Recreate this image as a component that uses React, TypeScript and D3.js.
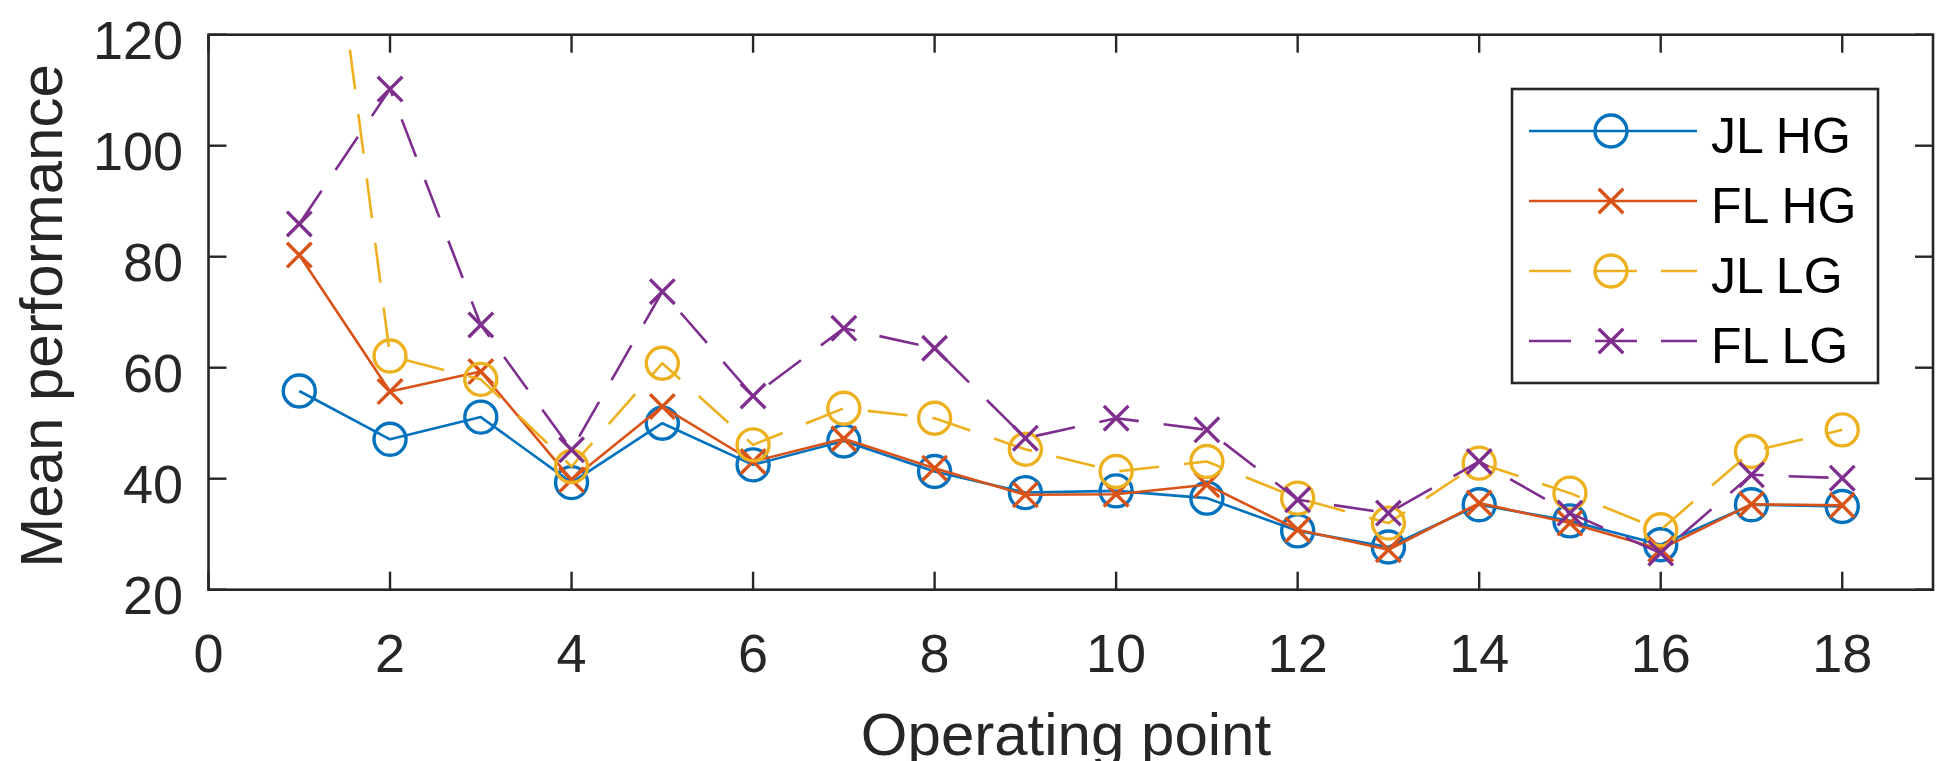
import * as d3 from "d3"

const W = 1941
const H = 761

// operating points 1..18
const opPoints = d3.range(1, 19)

const jlHG = [55.8, 47.1, 51.1, 39.3, 50.0, 42.5, 46.8, 41.3, 37.5, 37.8, 36.5, 30.6, 27.7, 35.3, 32.4, 28.1, 35.3, 35.0]
const flHG = [80.3, 55.7, 59.3, 39.8, 53.0, 43.1, 47.2, 41.9, 37.1, 37.2, 38.9, 30.8, 27.2, 35.6, 32.0, 27.3, 35.4, 35.2]
const jlLG = [187, 62.1, 57.9, 42.2, 60.8, 46.1, 52.7, 50.9, 45.3, 41.3, 43.1, 36.5, 32.0, 42.8, 37.4, 30.8, 44.9, 48.8]
const flLG = [85.9, 110.2, 67.7, 45.2, 73.7, 54.9, 67.1, 63.5, 47.3, 50.9, 48.8, 36.2, 33.8, 43.1, 33.8, 26.6, 40.7, 40.1]

const xTicks = [0, 2, 4, 6, 8, 10, 12, 14, 16, 18]
const yTicks = [20, 40, 60, 80, 100, 120]

const seriesNames = ["JL HG", "FL HG", "JL LG", "FL LG"]
const seriesColors = ["#0072BD", "#D95319", "#EDB120", "#7E2F8E"]
const seriesMarkers = ["circle", "cross", "circle", "cross"]
const seriesDashed = [false, false, true, true]
const seriesValues = [jlHG, flHG, jlLG, flLG]

const FONT = "'Liberation Sans', Helvetica, Arial, sans-serif"
const AXIS = "#262626"

const margin = { left: 208.5, right: 8, top: 34.7, bottom: 171.3 }

function Marker({ kind, x, y, color }) {
  if (kind === "circle") {
    return <circle cx={x} cy={y} r={16} fill="none" stroke={color} strokeWidth={3.4} />
  }
  const s = 12.3
  return (
    <path
      d={`M${x - s},${y - s}L${x + s},${y + s}M${x - s},${y + s}L${x + s},${y - s}`}
      stroke={color}
      strokeWidth={3.4}
      fill="none"
    />
  )
}

export default function App() {
  const x = d3.scaleLinear().domain([0, 19]).range([margin.left, W - margin.right])
  const y = d3.scaleLinear().domain([20, 120]).range([H - margin.bottom, margin.top])

  const x0 = x(0)
  const x1 = x(19)
  const y0 = y(20)
  const y1 = y(120)
  const tickLen = 18

  const line = d3
    .line<number>()
    .x((_, i) => x(opPoints[i]))
    .y((d) => y(d))

  // legend layout
  const lg = { left: 1512, top: 89, right: 1878, bottom: 383 }
  const rowY = (i) => 131 + i * 70

  return (
    <svg
      width={W}
      height={H}
      style={{ position: "absolute", left: 0, top: 0, display: "block", background: "#fff" }}
    >
      <defs>
        <clipPath id="plot-clip">
          <rect x={x0} y={y1} width={x1 - x0} height={y0 - y1} />
        </clipPath>
      </defs>

      {/* data */}
      <g clipPath="url(#plot-clip)">
        {seriesValues.map((vals, si) => (
          <g key={si}>
            <path
              d={line(vals)}
              fill="none"
              stroke={seriesColors[si]}
              strokeWidth={2.6}
              strokeDasharray={seriesDashed[si] ? "40 25" : null}
              strokeLinejoin="round"
            />
            {vals.map((v, i) => (
              <Marker key={i} kind={seriesMarkers[si]} x={x(opPoints[i])} y={y(v)} color={seriesColors[si]} />
            ))}
          </g>
        ))}
      </g>

      {/* axes box */}
      <rect x={x0} y={y1} width={x1 - x0} height={y0 - y1} fill="none" stroke={AXIS} strokeWidth={2.6} />

      {/* x ticks */}
      {xTicks.map((t) => (
        <g key={"x" + t}>
          <line x1={x(t)} x2={x(t)} y1={y0} y2={y0 - tickLen} stroke={AXIS} strokeWidth={2.4} />
          <line x1={x(t)} x2={x(t)} y1={y1} y2={y1 + tickLen} stroke={AXIS} strokeWidth={2.4} />
          <text x={x(t)} y={672} textAnchor="middle" fontFamily={FONT} fontSize={54} fill={AXIS}>
            {t}
          </text>
        </g>
      ))}

      {/* y ticks */}
      {yTicks.map((t) => (
        <g key={"y" + t}>
          <line x1={x0} x2={x0 + tickLen} y1={y(t)} y2={y(t)} stroke={AXIS} strokeWidth={2.4} />
          <line x1={x1} x2={x1 - tickLen} y1={y(t)} y2={y(t)} stroke={AXIS} strokeWidth={2.4} />
          <text x={183} y={y(t) + 24} textAnchor="end" fontFamily={FONT} fontSize={54} fill={AXIS}>
            {t}
          </text>
        </g>
      ))}

      {/* axis labels */}
      <text x={1066} y={755} textAnchor="middle" fontFamily={FONT} fontSize={60} fill={AXIS}>
        Operating point
      </text>
      <text
        transform={`translate(62,316) rotate(-90)`}
        textAnchor="middle"
        fontFamily={FONT}
        fontSize={60}
        fill={AXIS}
      >
        Mean performance
      </text>

      {/* legend */}
      <rect
        x={lg.left}
        y={lg.top}
        width={lg.right - lg.left}
        height={lg.bottom - lg.top}
        fill="#fff"
        stroke={AXIS}
        strokeWidth={2.6}
      />
      {seriesNames.map((name, i) => (
        <g key={name}>
          <line
            x1={1529}
            x2={1697}
            y1={rowY(i)}
            y2={rowY(i)}
            stroke={seriesColors[i]}
            strokeWidth={2.6}
            strokeDasharray={seriesDashed[i] ? "42 24" : null}
          />
          <Marker kind={seriesMarkers[i]} x={1611} y={rowY(i)} color={seriesColors[i]} />
          <text x={1711} y={rowY(i) + 22} fontFamily={FONT} fontSize={50} fill="#000">
            {name}
          </text>
        </g>
      ))}
    </svg>
  )
}
